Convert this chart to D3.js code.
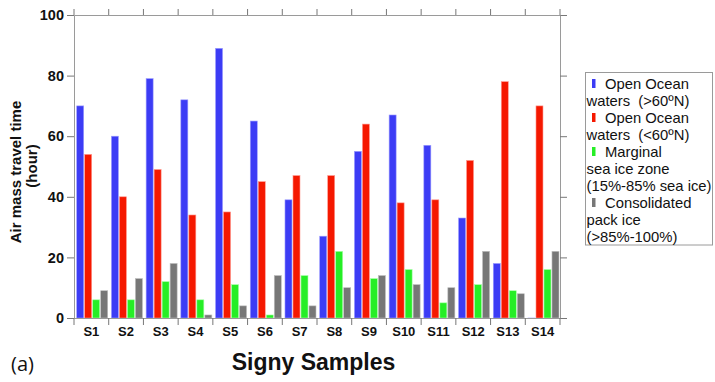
<!DOCTYPE html>
<html><head><meta charset="utf-8">
<script src="https://cdn.jsdelivr.net/npm/d3@7"></script>
<style>body{margin:0;background:#fff}svg{display:block}</style>
</head><body>
<script>
const categories = ["S1","S2","S3","S4","S5","S6","S7","S8","S9","S10","S11","S12","S13","S14"];
const openOceanNorth = [70,60,79,72,89,65,39,27,55,67,57,33,18,0];
const openOceanSouth = [54,40,49,34,35,45,47,47,64,38,39,52,78,70];
const marginalIce = [6,6,12,6,11,1,14,22,13,16,5,11,9,16];
const packIce = [9,13,18,1,4,14,4,10,14,11,10,22,8,22];
const yTicks = [0,20,40,60,80,100];
const seriesNames = ["north","south","marginal","pack"];
const seriesValues = [openOceanNorth, openOceanSouth, marginalIce, packIce];
const seriesColors = ["#3c3cf5","#f51800","#26ee26","#777777"];
const seriesStroke = ["#9c9cff","#ff9a90","#a8ffa8","#bdbdbd"];
const legendLines = [
  ["Open Ocean","waters  (>60ºN)"],
  ["Open Ocean","waters  (<60ºN)"],
  ["Marginal","sea ice zone","(15%-85% sea ice)"],
  ["Consolidated","pack ice","(>85%-100%)"]
];

const W=715,H=382;
const L=74,R=560,T=15,B=318;
const svg=d3.select("body").append("svg").attr("width",W).attr("height",H);
const font="'Liberation Sans', Arial, sans-serif";

const x=d3.scaleBand().domain(categories).range([L,R]).paddingInner(0).paddingOuter(0);
const xs=d3.scaleBand().domain(seriesNames).range([2.7,33.7]).paddingInner(0.125).paddingOuter(0);
const y=d3.scaleLinear().domain([0,100]).range([B,T]);

// bars
const groups=svg.append("g").selectAll("g").data(categories).join("g")
  .attr("transform",d=>`translate(${x(d)},0)`);
groups.each(function(c,i){
  const g=d3.select(this);
  seriesNames.forEach((s,k)=>{
    const v=seriesValues[k][i];
    g.append("rect").attr("x",xs(s)).attr("width",xs.bandwidth())
      .attr("y",y(v)).attr("height",Math.max(0.6,y(0)-y(v)))
      .attr("fill",seriesColors[k]).attr("stroke",seriesStroke[k]).attr("stroke-width",0.6);
  });
});

// axes
const axisColor="#9a9a9a";
const yAxis=svg.append("g").attr("transform",`translate(${L},0)`)
  .call(d3.axisLeft(y).tickValues(yTicks).tickSize(7).tickPadding(3));
yAxis.selectAll("text").attr("font-family",font).attr("font-weight","bold").attr("font-size",14.5).attr("fill","#111");
const yAxisR=svg.append("g").attr("transform",`translate(${R},0)`)
  .call(d3.axisRight(y).tickValues(yTicks).tickSize(7));
yAxisR.selectAll("text").remove();
const xAxis=svg.append("g").attr("transform",`translate(0,${B})`)
  .call(d3.axisBottom(x).tickSize(0).tickPadding(9));
xAxis.selectAll("text").attr("font-family",font).attr("font-weight","bold").attr("font-size",13).attr("fill","#111");
const xTop=svg.append("g").attr("transform",`translate(0,${T})`)
  .call(d3.axisTop(x).tickSize(0));
xTop.selectAll("text").remove();
[yAxis,yAxisR,xAxis,xTop].forEach(a=>{
  a.select(".domain").attr("stroke",axisColor).attr("stroke-width",1);
  a.selectAll(".tick line").attr("stroke","#777");
});
// category boundary ticks (bottom and top)
const bounds=categories.map(c=>x(c)).concat([R]);
svg.append("g").selectAll("line.bt").data(bounds).join("line")
  .attr("x1",d=>d).attr("x2",d=>d).attr("y1",B).attr("y2",B+7).attr("stroke","#777");
svg.append("g").selectAll("line.tt").data(bounds).join("line")
  .attr("x1",d=>d).attr("x2",d=>d).attr("y1",T).attr("y2",T-6).attr("stroke","#777");

// axis titles
svg.append("text").attr("transform","translate(21,172) rotate(-90)").attr("text-anchor","middle")
  .attr("font-family",font).attr("font-weight","bold").attr("font-size",15).attr("fill","#111")
  .text("Air mass travel time");
svg.append("text").attr("transform","translate(37,166) rotate(-90)").attr("text-anchor","middle")
  .attr("font-family",font).attr("font-weight","bold").attr("font-size",15).attr("fill","#111")
  .text("(hour)");
svg.append("text").attr("x",313.5).attr("y",370).attr("text-anchor","middle")
  .attr("font-family",font).attr("font-weight","bold").attr("font-size",23).attr("fill","#111")
  .text("Signy Samples");
svg.append("text").attr("x",11).attr("y",371)
  .attr("font-family","'Open Sans', sans-serif").attr("font-size",20).attr("fill","#111")
  .text("(a)");

// legend
const lg=svg.append("g");
lg.append("rect").attr("x",585.5).attr("y",72.5).attr("width",127).attr("height",172.5)
  .attr("fill","#fff").attr("stroke","#9a9a9a").attr("stroke-width",1);
let line=0;
legendLines.forEach((lines,k)=>{
  lines.forEach((t,j)=>{
    const by=88.5+line*17;
    if(j===0){
      lg.append("rect").attr("x",592).attr("y",by-9.5).attr("width",3.5).attr("height",9)
        .attr("fill",seriesColors[k]);
    }
    lg.append("text").attr("x",j===0?605:586.5).attr("y",by)
      .attr("font-family",font).attr("font-size",14.8).attr("fill","#111")
      .attr("xml:space","preserve").style("white-space","pre").text(t);
    line++;
  });
});
</script>
</body></html>
